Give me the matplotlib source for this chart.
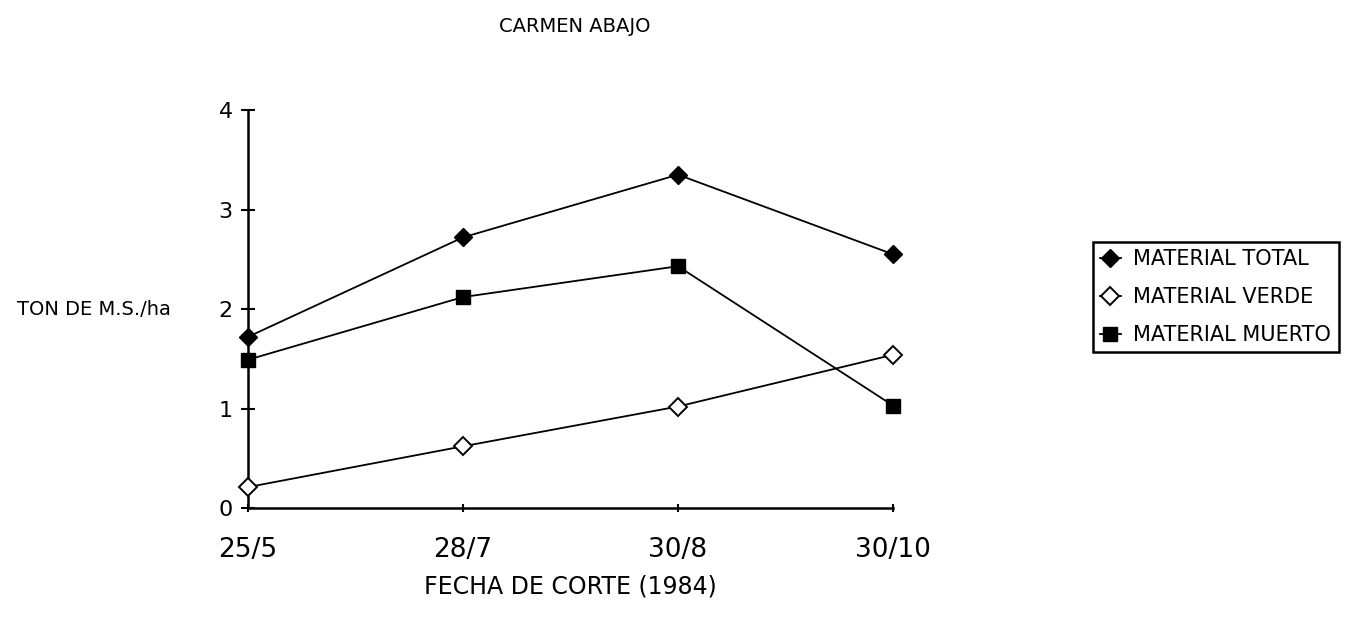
import matplotlib
matplotlib.use("Agg")
import matplotlib.pyplot as plt
from matplotlib.legend_handler import HandlerLine2D

plt.rcParams['font.family'] = ['DejaVu Sans']

# data
fechas = ['25/5', '28/7', '30/8', '30/10']
total = [1.72, 2.72, 3.35, 2.55]
verde = [0.21, 0.62, 1.02, 1.54]
muerto = [1.49, 2.12, 2.43, 1.03]
y_ticks = [0, 1, 2, 3, 4]


# legend handle: marker at the left end, short dash to the right
class MarkerFirst(HandlerLine2D):
    def get_xdata(self, legend, xdescent, ydescent, width, height, fontsize):
        xdata = [-xdescent, -xdescent + width]
        return xdata, [-xdescent]


fig = plt.figure(figsize=(13.58, 6.23), dpi=100)
ax = fig.add_axes([0.1826, 0.1846, 0.475, 0.6388])

x = list(range(len(fechas)))
l1, = ax.plot(x, total, color='black', lw=1.3, marker='D', markersize=9,
              markerfacecolor='black', clip_on=False, zorder=3, label='MATERIAL TOTAL')
l2, = ax.plot(x, verde, color='black', lw=1.3, marker='D', markersize=9,
              markerfacecolor='white', markeredgewidth=1.4, clip_on=False, zorder=3,
              label='MATERIAL VERDE')
l3, = ax.plot(x, muerto, color='black', lw=1.3, marker='s', markersize=10,
              markerfacecolor='black', clip_on=False, zorder=3, label='MATERIAL MUERTO')

ax.set_xlim(0, len(fechas) - 1)
ax.set_ylim(0, 4)
ax.set_xticks(x)
ax.set_xticklabels(fechas, fontsize=19)
ax.set_yticks(y_ticks)
ax.set_yticklabels([str(t) for t in y_ticks], fontsize=16)

for s in ['top', 'right']:
    ax.spines[s].set_visible(False)
for s in ['left', 'bottom']:
    ax.spines[s].set_linewidth(1.8)
ax.tick_params(axis='y', direction='inout', length=10, width=1.5, pad=6)
ax.tick_params(axis='x', direction='inout', length=6, width=1.5, pad=18)

ax.set_ylabel('TON DE M.S./ha', fontsize=14, rotation=0, ha='right', va='center')
ax.yaxis.set_label_coords(-0.12, 0.5)
ax.set_xlabel('FECHA DE CORTE (1984)', fontsize=17, labelpad=8)
fig.text(0.423, 0.958, 'CARMEN ABAJO', fontsize=14, ha='center', va='center')

leg = fig.legend(handles=[l1, l2, l3], loc='upper left', bbox_to_anchor=(0.797, 0.628),
                 fontsize=15, frameon=True, fancybox=False, edgecolor='black',
                 handlelength=1.0, handletextpad=0.6, borderpad=0.35, labelspacing=0.85,
                 handler_map={l1: MarkerFirst(), l2: MarkerFirst(), l3: MarkerFirst()})
leg.get_frame().set_linewidth(1.8)
leg.get_frame().set_alpha(None)

fig.savefig('out.png', dpi=100)
